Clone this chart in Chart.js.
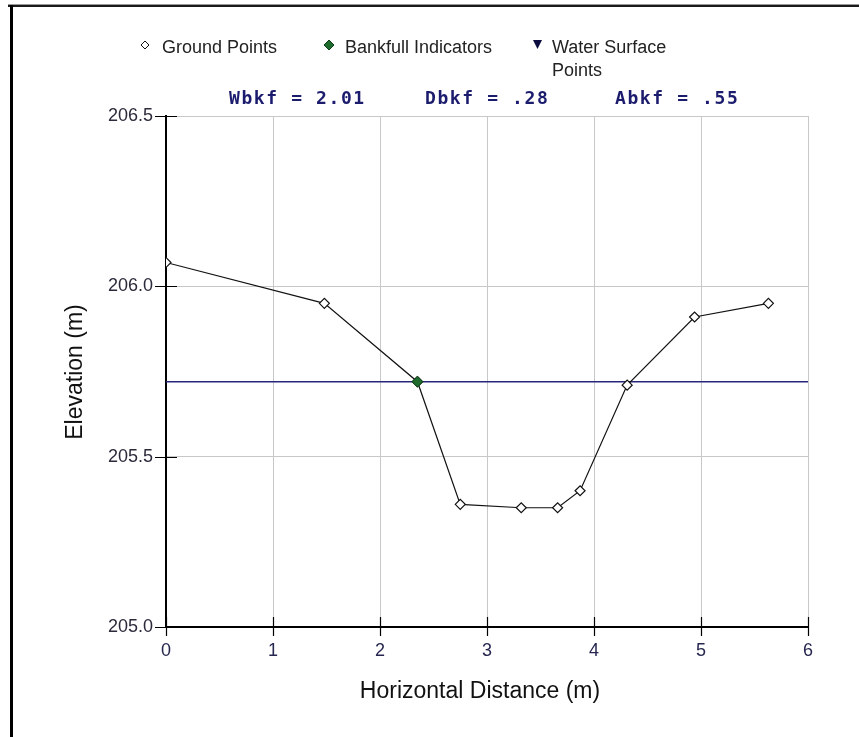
<!DOCTYPE html>
<html>
<head>
<meta charset="utf-8">
<script src="https://cdn.jsdelivr.net/npm/chart.js@4.4.1/dist/chart.umd.min.js"></script>
<style>
  html, body { margin: 0; padding: 0; background: #fff; }
  #wrap { position: relative; width: 859px; height: 737px; overflow: hidden; }
  #frameTop { position: absolute; left: 8px; top: 4px; width: 851px; height: 1px; background: #999; }
  #frameTop2 { position: absolute; left: 8px; top: 5px; width: 851px; height: 2px; background: #1a1a1a; }
  #frameLeft { position: absolute; left: 10px; top: 5px; width: 3px; height: 732px; background: #000; }
  canvas { position: absolute; left: 0; top: 0; }
</style>
</head>
<body>
<div id="wrap">
  <canvas id="xsChart" width="859" height="737"></canvas>
  <div id="frameTop"></div>
  <div id="frameTop2"></div>
  <div id="frameLeft"></div>
</div>
<script>
// cross-section survey data (m)
const groundX = [0, 1.48, 2.35, 2.75, 3.32, 3.66, 3.87, 4.31, 4.94, 5.63];
const groundY = [206.07, 205.95, 205.72, 205.36, 205.35, 205.35, 205.40, 205.71, 205.91, 205.95];
const bankfullX = [2.35];
const bankfullY = [205.72];
const waterX = [0, 6];
const waterY = [205.72, 205.72];
const legendLabels = ['Ground Points', 'Bankfull Indicators', 'Water Surface', 'Points'];
const statLabels = ['Wbkf = 2.01', 'Dbkf = .28', 'Abkf = .55'];
const xTitle = 'Horizontal Distance (m)';
const yTitle = 'Elevation (m)';

const toPoints = (xs, ys) => xs.map((x, i) => ({ x: x, y: ys[i] }));

const FONT = '"Liberation Sans", Arial, sans-serif';
const NAVY = '#26267a';

// draws the legend, stats line, axis titles and the crossing tick marks
const decorations = {
    id: 'decorations',
    afterDraw(chart) {
        const ctx = chart.ctx;
        const xs = chart.scales.x;
        const ys = chart.scales.y;
        const area = chart.chartArea;
        ctx.save();

        // tick marks crossing the axes
        ctx.strokeStyle = '#000';
        ctx.lineWidth = 1.2;
        ctx.beginPath();
        xs.ticks.forEach(t => {
            const px = Math.round(xs.getPixelForValue(t.value)) + 0.5;
            ctx.moveTo(px, area.bottom - 10);
            ctx.lineTo(px, area.bottom + 9);
        });
        ys.ticks.forEach(t => {
            const py = Math.round(ys.getPixelForValue(t.value)) + 0.5;
            ctx.moveTo(area.left - 11, py);
            ctx.lineTo(area.left + 11, py);
        });
        ctx.stroke();

        // legend
        ctx.font = '18px ' + FONT;
        ctx.fillStyle = '#222';
        ctx.textBaseline = 'alphabetic';
        ctx.textAlign = 'left';
        ctx.fillText(legendLabels[0], 162, 53);
        ctx.fillText(legendLabels[1], 345, 53);
        ctx.fillText(legendLabels[2], 552, 53);
        ctx.fillText(legendLabels[3], 552, 76);

        // legend symbols
        ctx.lineWidth = 1;
        ctx.strokeStyle = '#111';
        ctx.fillStyle = '#fff';
        ctx.beginPath();
        ctx.moveTo(145, 41); ctx.lineTo(149, 45); ctx.lineTo(145, 49); ctx.lineTo(141, 45); ctx.closePath();
        ctx.fill(); ctx.stroke();
        ctx.fillStyle = '#1f6b2e';
        ctx.strokeStyle = '#0f3f18';
        ctx.beginPath();
        ctx.moveTo(329, 40); ctx.lineTo(334, 45); ctx.lineTo(329, 50); ctx.lineTo(324, 45); ctx.closePath();
        ctx.fill(); ctx.stroke();
        ctx.fillStyle = '#0c0c40';
        ctx.beginPath();
        ctx.moveTo(533, 40); ctx.lineTo(542, 40); ctx.lineTo(537.5, 49); ctx.closePath();
        ctx.fill();

        // bankfull stats
        ctx.font = 'bold 18px "DejaVu Sans Mono", monospace';
        ctx.fillStyle = '#1c1c6e';
        ctx.letterSpacing = '1.6px';
        ctx.fillText(statLabels[0], 229, 104);
        ctx.fillText(statLabels[1], 425, 104);
        ctx.fillText(statLabels[2], 615, 104);
        ctx.letterSpacing = '0px';

        // axis titles
        ctx.fillStyle = '#111';
        ctx.font = '23px ' + FONT;
        ctx.textAlign = 'center';
        ctx.textBaseline = 'middle';
        ctx.fillText(xTitle, 480, 692);
        ctx.translate(76, 372);
        ctx.rotate(-Math.PI / 2);
        ctx.fillText(yTitle, 0, 0);
        ctx.restore();
    }
};

const ctx = document.getElementById('xsChart').getContext('2d');
const chart = new Chart(ctx, {
    type: 'scatter',
    data: {
        datasets: [
            {
                label: 'Bankfull Indicators',
                data: toPoints(bankfullX, bankfullY),
                pointStyle: 'rectRot',
                pointRadius: 5.5,
                backgroundColor: '#1f6b2e',
                borderColor: '#0f3f18',
                borderWidth: 1,
                showLine: false,
                order: 0
            },
            {
                label: 'Ground Points',
                data: toPoints(groundX, groundY),
                pointStyle: 'rectRot',
                pointRadius: 5,
                backgroundColor: '#fff',
                borderColor: '#111',
                pointBorderWidth: 1.2,
                borderWidth: 1.2,
                showLine: true,
                tension: 0,
                order: 1
            },
            {
                label: 'Water Surface',
                data: toPoints(waterX, waterY),
                pointRadius: 0,
                borderColor: NAVY,
                borderWidth: 1.5,
                showLine: true,
                order: 2
            }
        ]
    },
    options: {
        responsive: false,
        animation: false,
        events: [],
        layout: {
            padding: { left: 0, top: 116, right: 51, bottom: 0 }
        },
        scales: {
            x: {
                type: 'linear',
                min: 0,
                max: 6,
                afterFit: s => { s.height = 110; },
                ticks: {
                    stepSize: 1,
                    padding: 13,
                    color: '#262650',
                    font: { family: FONT, size: 18 }
                },
                grid: { color: '#c8c8c8', lineWidth: 1, drawTicks: false },
                border: { color: '#000', width: 2 }
            },
            y: {
                type: 'linear',
                min: 205,
                max: 206.5,
                afterFit: s => { s.width = 166; },
                ticks: {
                    stepSize: 0.5,
                    padding: 13,
                    color: '#2a2a3a',
                    font: { family: FONT, size: 18 },
                    callback: v => v.toFixed(1)
                },
                grid: { color: '#c8c8c8', lineWidth: 1, drawTicks: false },
                border: { color: '#000', width: 2 }
            }
        },
        plugins: {
            legend: { display: false },
            tooltip: { enabled: false }
        }
    },
    plugins: [decorations]
});
</script>
</body>
</html>
